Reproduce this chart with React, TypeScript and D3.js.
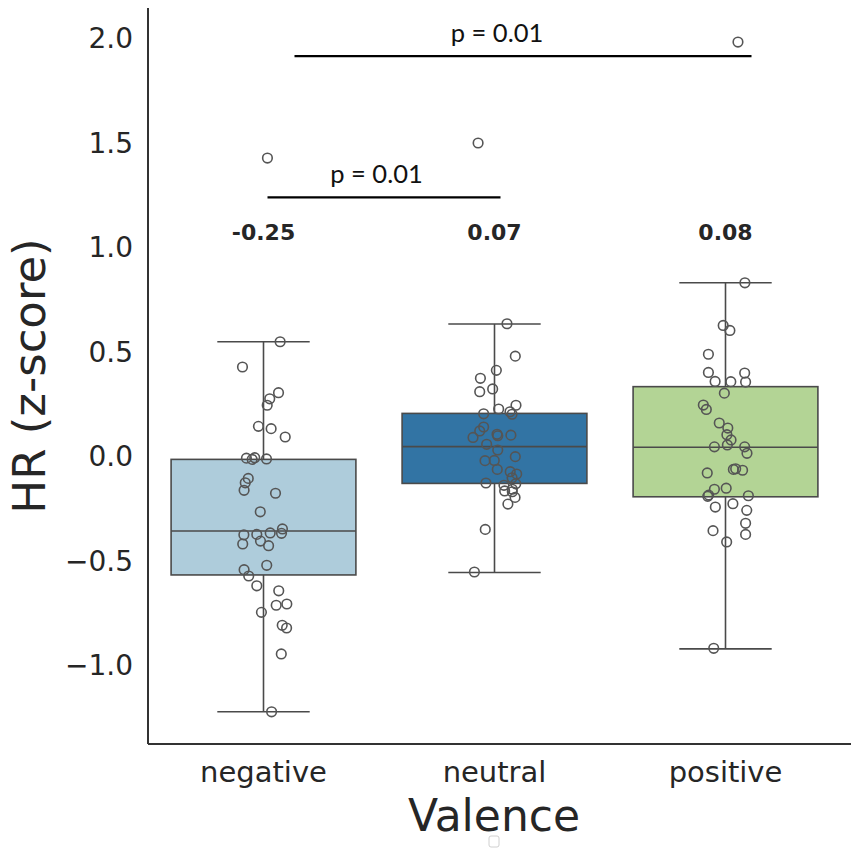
import * as d3 from 'd3';

const categories = ['negative', 'neutral', 'positive'];
const boxColors = ['#aeccdb', '#3274a4', '#b3d495'];

// box statistics
const whiskerHigh = [0.547, 0.632, 0.829];
const q3 = [-0.016, 0.204, 0.332];
const median = [-0.359, 0.045, 0.042];
const q1 = [-0.569, -0.131, -0.195];
const whiskerLow = [-1.224, -0.557, -0.923];

const meanLabels = ['-0.25', '0.07', '0.08'];

// strip points (value, jitter as fraction of band step)
const negativeValues = [
  0.547, 0.426, 0.303, 0.274, 0.243, 0.142, 0.131, 0.091, -0.010, -0.016,
  -0.008, -0.014, -0.107, -0.128, -0.164, -0.178, -0.267, -0.349, -0.377, -0.375,
  -0.368, -0.370, -0.421, -0.407, -0.429, -0.523, -0.544, -0.574, -0.621, -0.645,
  -0.714, -0.708, -0.748, -0.810, -0.823, -0.947, -1.224, 1.426,
];
const negativeJitter = [
  0.072, -0.091, 0.065, 0.027, 0.016, -0.022, 0.033, 0.094, -0.074, -0.049,
  -0.038, 0.013, -0.066, -0.079, -0.084, 0.052, -0.014, 0.082, -0.085, -0.029,
  0.029, 0.078, -0.090, -0.013, 0.022, 0.014, -0.084, -0.064, -0.029, 0.066,
  0.055, 0.101, -0.009, 0.081, 0.100, 0.077, 0.035, 0.017,
];
const neutralValues = [
  0.633, 0.478, 0.410, 0.372, 0.321, 0.308, 0.243, 0.225, 0.212, 0.202,
  0.200, 0.139, 0.120, 0.089, 0.104, 0.097, 0.100, 0.056, 0.029, -0.003,
  -0.022, -0.021, -0.064, -0.075, -0.086, -0.104, -0.129, -0.140, -0.133, -0.167,
  -0.159, -0.171, -0.198, -0.230, -0.351, -0.555, 1.498,
];
const neutralJitter = [
  0.054, 0.090, 0.008, -0.061, -0.008, -0.064, 0.093, 0.018, 0.067, -0.047,
  0.076, -0.047, -0.064, -0.093, 0.011, 0.014, 0.071, -0.034, 0.014, 0.090,
  -0.041, -0.001, 0.012, 0.068, 0.096, 0.076, -0.037, 0.041, 0.092, 0.044,
  0.077, 0.077, 0.089, 0.058, -0.040, -0.087, -0.071,
];
const positiveValues = [
  0.829, 0.625, 0.601, 0.487, 0.400, 0.397, 0.357, 0.356, 0.354, 0.301,
  0.244, 0.223, 0.158, 0.134, 0.102, 0.077, 0.053, 0.044, 0.044, 0.013,
  -0.064, -0.061, -0.068, -0.081, -0.154, -0.159, -0.187, -0.193, -0.190, -0.228,
  -0.244, -0.260, -0.322, -0.357, -0.375, -0.411, -0.920, 1.981,
];
const positiveJitter = [
  0.084, -0.010, 0.019, -0.074, -0.074, 0.083, -0.045, 0.023, 0.087, -0.005,
  -0.096, -0.083, -0.027, 0.010, 0.006, 0.024, 0.008, -0.048, 0.083, 0.093,
  0.034, 0.044, 0.074, -0.079, 0.003, -0.048, -0.073, -0.077, 0.099, 0.032,
  -0.044, 0.092, 0.087, -0.054, 0.087, 0.005, -0.051, 0.054,
];

const yTicks = [-1.0, -0.5, 0.0, 0.5, 1.0, 1.5, 2.0];

// significance brackets
const sigFrom = ['negative', 'negative'];
const sigTo = ['neutral', 'positive'];
const sigLabelAt = ['negative', 'neutral'];
const sigLevel = [1.238, 1.914];
const sigLabel = ['p = 0.01', 'p = 0.01'];

const W = 851;
const H = 857;
const left = 148;
const bottom = 744;
const top = 8;

export default function App() {
  const x = d3.scaleBand().domain(categories).range([left, 841]).paddingInner(0).paddingOuter(0);
  const y = d3.scaleLinear().domain([-1.378, 2.144]).range([bottom, top]);
  const step = x.step();
  const boxW = step * 0.8;
  const cx = (c: string) => (x(c) as number) + step / 2;

  const groups = [
    { vals: negativeValues, jit: negativeJitter },
    { vals: neutralValues, jit: neutralJitter },
    { vals: positiveValues, jit: positiveJitter },
  ];
  const fmt = (v: number) => d3.format('.1f')(v).replace('-', '\u2212');
  const line = '#4a4a4a';

  // bracket end offsets and label offsets in px, relative to category centres
  const sigOffsets = [[4, 6], [31, 26]];
  const sigTextOffset = [113, 2.5];

  return (
    <svg width={W} height={H} style={{ position: 'absolute', left: 0, top: 0, background: '#fff' }}>
      {/* spines */}
      <line x1={left} x2={left} y1={top} y2={bottom} stroke="#333" strokeWidth={2} />
      <line x1={left} x2={W} y1={bottom} y2={bottom} stroke="#333" strokeWidth={2} />

      {/* y ticks */}
      {yTicks.map((t) => (
        <text key={t} x={133} y={y(t)} dy="0.36em" textAnchor="end"
          fontFamily="DejaVu Sans" fontSize={28} fill="#262626">{fmt(t)}</text>
      ))}
      {/* x ticks */}
      {categories.map((c) => (
        <text key={c} x={cx(c)} y={782} textAnchor="middle"
          fontFamily="DejaVu Sans" fontSize={29} fill="#262626">{c}</text>
      ))}

      <text transform={`translate(45, 376) rotate(-90)`} textAnchor="middle"
        fontFamily="DejaVu Sans" fontSize={45} fill="#262626">HR (z-score)</text>
      <text x={494} y={831} textAnchor="middle"
        fontFamily="DejaVu Sans" fontSize={44} fill="#262626">Valence</text>

      {/* boxes */}
      {categories.map((c, i) => {
        const c0 = cx(c);
        return (
          <g key={c}>
            <line x1={c0} x2={c0} y1={y(whiskerHigh[i])} y2={y(q3[i])} stroke={line} strokeWidth={1.6} />
            <line x1={c0} x2={c0} y1={y(q1[i])} y2={y(whiskerLow[i])} stroke={line} strokeWidth={1.6} />
            <line x1={c0 - boxW / 4} x2={c0 + boxW / 4} y1={y(whiskerHigh[i])} y2={y(whiskerHigh[i])} stroke={line} strokeWidth={1.6} />
            <line x1={c0 - boxW / 4} x2={c0 + boxW / 4} y1={y(whiskerLow[i])} y2={y(whiskerLow[i])} stroke={line} strokeWidth={1.6} />
            <rect x={c0 - boxW / 2} y={y(q3[i])} width={boxW} height={y(q1[i]) - y(q3[i])}
              fill={boxColors[i]} stroke={line} strokeWidth={1.6} />
            <line x1={c0 - boxW / 2} x2={c0 + boxW / 2} y1={y(median[i])} y2={y(median[i])} stroke={line} strokeWidth={1.6} />
          </g>
        );
      })}

      {/* strip points */}
      {categories.map((c, i) => (
        <g key={c + '-pts'}>
          {groups[i].vals.map((v, j) => (
            <circle key={j} cx={cx(c) + groups[i].jit[j] * step} cy={y(v)} r={4.8}
              fill="none" stroke="#555" strokeWidth={1.6} />
          ))}
        </g>
      ))}

      {/* means */}
      {categories.map((c, i) => (
        <text key={c + '-mean'} x={cx(c)} y={y(1.033)} textAnchor="middle"
          fontFamily="DejaVu Sans" fontWeight="bold" fontSize={22} fill="#262626">{meanLabels[i]}</text>
      ))}

      {/* significance brackets */}
      {sigLevel.map((lv, k) => {
        const x1 = cx(sigFrom[k]) + sigOffsets[k][0];
        const x2 = cx(sigTo[k]) + sigOffsets[k][1];
        return (
          <g key={'sig' + k}>
            <line x1={x1} x2={x2} y1={y(lv)} y2={y(lv)} stroke="#000" strokeWidth={2.2} />
            <text x={cx(sigLabelAt[k]) + sigTextOffset[k]} y={y(lv) - 14} textAnchor="middle"
              fontFamily="Lato, 'Open Sans', sans-serif" fontSize={25.5} fill="#111">{sigLabel[k]}</text>
          </g>
        );
      })}

      {/* stray legend marker */}
      <rect x={489} y={836} width={10} height={11} rx={2} fill="none" stroke="#d0d0d0" strokeWidth={1} />
    </svg>
  );
}
